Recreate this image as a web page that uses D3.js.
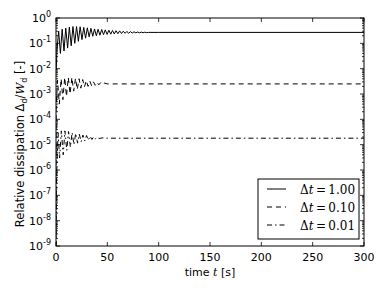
<!DOCTYPE html>
<html>
<head>
<meta charset="utf-8">
<title>Relative dissipation</title>
<script src="https://d3js.org/d3.v7.min.js"></script>
<style>
  body { margin: 0; background: #fff; }
  text { font-family: "DejaVu Sans", sans-serif; fill: #000; }
  .serif { font-family: "DejaVu Serif", "Liberation Serif", serif; }
</style>
</head>
<body>
<div id="chart"></div>
<script>
// dt = 1.00 (solid)
let tA = [0.2, 1.0, 2.6, 4.3, 6.0, 7.8, 9.5, 11.3, 13.0, 14.8, 16.5, 18.3, 20.0, 21.8, 23.5, 25.3, 27.0, 28.8, 30.5, 32.3,
          34.0, 35.8, 37.5, 39.3, 41.0, 42.8, 44.5, 46.3, 48.0, 49.8, 51.5, 53.3, 55.0, 56.8, 58.5, 60.3, 62.0, 63.8, 65.5, 67.3,
          69.0, 70.8, 72.5, 74.3, 76.0, 77.8, 79.5, 81.3, 83.0, 84.8, 86.5, 88.3, 90.0, 100, 300];
let vA = [0.009, 0.06, 0.30, 0.04, 0.36, 0.05, 0.40, 0.065, 0.44, 0.08, 0.46, 0.10, 0.46, 0.12, 0.45, 0.14, 0.43, 0.16, 0.41, 0.18,
          0.39, 0.19, 0.37, 0.20, 0.36, 0.21, 0.35, 0.22, 0.34, 0.225, 0.33, 0.23, 0.32, 0.235, 0.315, 0.24, 0.31, 0.245, 0.30, 0.25,
          0.295, 0.25, 0.29, 0.255, 0.285, 0.26, 0.28, 0.26, 0.278, 0.262, 0.275, 0.265, 0.27, 0.27, 0.27];

// dt = 0.10 (dashed)
let tB = [0, 0.1, 0.5, 1.5, 3.2, 5.0, 6.7, 8.5, 10.2, 12.0, 13.7, 15.5, 17.2, 19.0, 20.7, 22.5, 24.2, 26.0, 27.7, 29.5,
          31.2, 33.0, 34.7, 36.5, 38.2, 40.0, 41.7, 43.5, 45.2, 47.0, 50, 60, 300];
let vB = [1e-9, 0.00025, 0.0006, 0.0035, 0.0004, 0.004, 0.0006, 0.0045, 0.0008, 0.0045, 0.001, 0.0045, 0.0013, 0.0042, 0.0015, 0.004, 0.0017, 0.0037, 0.0019, 0.0034,
          0.002, 0.0032, 0.0021, 0.003, 0.0022, 0.0029, 0.0023, 0.0028, 0.0024, 0.0027, 0.0025, 0.0025, 0.0025];

// dt = 0.01 (dash-dot)
let tC = [0, 0.2, 0.5, 1.0, 2.0, 3.5, 5.2, 7.0, 8.7, 10.5, 12.2, 14.0, 15.7, 17.5, 19.2, 21.0, 22.7, 24.5, 26.2, 28.0,
          29.7, 31.5, 33.2, 35.0, 36.7, 38.5, 40.2, 42.0, 45, 50, 300];
let vC = [1e-9, 2e-8, 6e-7, 1.5e-6, 3e-5, 3e-6, 3.5e-5, 4e-6, 3.5e-5, 6e-6, 3.3e-5, 8e-6, 3e-5, 1e-5, 2.8e-5, 1.15e-5, 2.6e-5, 1.3e-5, 2.4e-5, 1.4e-5,
          2.3e-5, 1.5e-5, 2.15e-5, 1.6e-5, 2.05e-5, 1.7e-5, 1.95e-5, 1.75e-5, 1.85e-5, 1.8e-5, 1.8e-5];

let seriesNames = ["1.00", "0.10", "0.01"];
let xTicks = [0, 50, 100, 150, 200, 250, 300];
let yExps = [0, -1, -2, -3, -4, -5, -6, -7, -8, -9];

let margin = {top: 18, right: 22, bottom: 44, left: 56};
let W = 386, H = 290;
let w = W - margin.left - margin.right;
let h = H - margin.top - margin.bottom;

let svg = d3.select("#chart").append("svg")
    .attr("width", W).attr("height", H);
let g = svg.append("g")
    .attr("transform", "translate(" + margin.left + "," + margin.top + ")");

let x = d3.scaleLinear().domain([0, 300]).range([0, w]);
let y = d3.scaleLog().domain([1e-9, 1]).range([h, 0]);

g.append("clipPath").attr("id", "clip")
  .append("rect").attr("width", w).attr("height", h);

let series = [
  {t: tA, v: vA, dash: null},
  {t: tB, v: vB, dash: "5,4"},
  {t: tC, v: vC, dash: "5,3,1.5,3"}
];

let line = d3.line()
    .x(function(d) { return x(d[0]); })
    .y(function(d) { return y(d[1]); });

series.forEach(function(s) {
  let pts = s.t.map(function(t, i) { return [t, s.v[i]]; });
  g.append("path")
    .datum(pts)
    .attr("clip-path", "url(#clip)")
    .attr("fill", "none")
    .attr("stroke", "#000")
    .attr("stroke-width", 1)
    .attr("stroke-dasharray", s.dash)
    .attr("d", line);
});

// ticks (inside, all four sides)
let ticksG = g.append("g").attr("stroke", "#000").attr("stroke-width", 0.8);
xTicks.forEach(function(t) {
  ticksG.append("line").attr("x1", x(t)).attr("x2", x(t)).attr("y1", h).attr("y2", h - 4);
  ticksG.append("line").attr("x1", x(t)).attr("x2", x(t)).attr("y1", 0).attr("y2", 4);
});
yExps.forEach(function(e) {
  let yy = y(Math.pow(10, e));
  ticksG.append("line").attr("x1", 0).attr("x2", 4).attr("y1", yy).attr("y2", yy);
  ticksG.append("line").attr("x1", w).attr("x2", w - 4).attr("y1", yy).attr("y2", yy);
  if (e > -9) {
    for (let m = 2; m <= 9; m++) {
      let ym = y(m * Math.pow(10, e - 1));
      ticksG.append("line").attr("x1", 0).attr("x2", 2).attr("y1", ym).attr("y2", ym);
      ticksG.append("line").attr("x1", w).attr("x2", w - 2).attr("y1", ym).attr("y2", ym);
    }
  }
});

// frame
g.append("rect").attr("width", w).attr("height", h)
  .attr("fill", "none").attr("stroke", "#000").attr("stroke-width", 1);

// x tick labels
xTicks.forEach(function(t) {
  g.append("text").attr("x", x(t)).attr("y", h + 15)
    .attr("text-anchor", "middle").style("font-size", "11px").text(t);
});

// y tick labels
yExps.forEach(function(e) {
  let yy = y(Math.pow(10, e));
  let lbl = g.append("text").attr("x", -5).attr("y", yy + 4)
    .attr("text-anchor", "end").style("font-size", "11px");
  lbl.append("tspan").text("10");
  lbl.append("tspan").attr("dy", -5).style("font-size", "8px").text(e === 0 ? "0" : "-" + (-e));
});

// axis labels
let xl = g.append("text").attr("x", w / 2).attr("y", h + 30)
  .attr("text-anchor", "middle").style("font-size", "11px");
xl.append("tspan").text("time ");
xl.append("tspan").attr("class", "serif").style("font-style", "italic").text("t");
xl.append("tspan").text(" [s]");

let yl = g.append("text")
  .attr("transform", "translate(" + (-32) + "," + (h / 2 + 12) + ") rotate(-90)")
  .attr("text-anchor", "middle").style("font-size", "11.5px");
yl.append("tspan").text("Relative dissipation Δ");
yl.append("tspan").attr("dy", 3).style("font-size", "8px").text("d");
yl.append("tspan").attr("dy", -3).text("/");
yl.append("tspan").attr("class", "serif").style("font-style", "italic").text("W");
yl.append("tspan").attr("dy", 3).style("font-size", "8px").text("d");
yl.append("tspan").attr("dy", -3).text(" [-]");

// legend
let lg = svg.append("g").attr("transform", "translate(258,179)");
lg.append("rect").attr("width", 101).attr("height", 60)
  .attr("fill", "#fff").attr("stroke", "#000").attr("stroke-width", 1);
series.forEach(function(s, i) {
  let ly = 10 + i * 18;
  lg.append("line").attr("x1", 9).attr("x2", 28).attr("y1", ly).attr("y2", ly)
    .attr("stroke", "#000").attr("stroke-width", 1).attr("stroke-dasharray", s.dash);
  let tx = lg.append("text").attr("class", "serif").attr("x", 42).attr("y", ly + 4.5)
    .style("font-size", "12px");
  tx.append("tspan").text("Δ");
  tx.append("tspan").style("font-style", "italic").text("t");
  tx.append("tspan").text("\u2009=\u2009" + seriesNames[i]);
});
</script>
</body>
</html>
